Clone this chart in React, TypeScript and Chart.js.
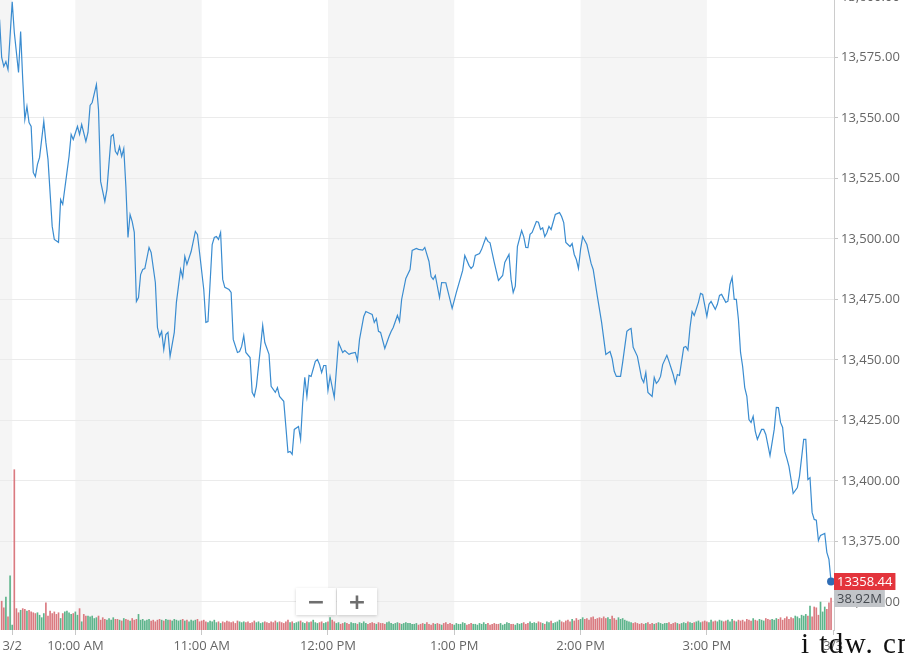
import React, { useEffect, useRef } from "react";
import { Chart, registerables } from "chart.js";

Chart.register(...registerables);

// minutes after 9:30 AM (negative = previous session's last minutes)
const minutes = [
  -6, -5, -4, -3, -2, 0, 1, 3, 4, 5, 6, 7, 8, 9, 10, 11, 12, 13, 15, 16, 17, 19, 20, 22, 23, 24, 26, 27, 28, 29,
  31, 32, 33, 35, 36, 37, 38, 40, 41, 42, 44, 45, 47, 48, 49, 50, 51, 52, 53, 54, 55, 56, 57, 58, 59, 60, 61, 62, 63, 65,
  66, 68, 69, 70, 71, 72, 73, 74, 75, 77, 78, 80, 81, 82, 83, 85, 87, 88, 89, 91, 92, 93, 95, 96, 97, 98, 99, 100, 101, 103,
  104, 105, 107, 108, 109, 110, 111, 113, 114, 115, 116, 118, 119, 120, 122, 123, 125, 126, 127, 129, 130, 131, 132, 133, 134, 136, 137, 138, 139, 140,
  141, 142, 144, 145, 146, 147, 148, 149, 150, 151, 153, 155, 157, 158, 160, 161, 163, 164, 165, 167, 168, 170, 171, 172, 173, 174, 175, 177, 179, 180,
  181, 183, 184, 185, 187, 189, 190, 192, 193, 195, 196, 198, 199, 200, 201, 203, 204, 206, 207, 209, 211, 214, 215, 217, 218, 219, 220, 222, 223, 225,
  226, 227, 229, 231, 233, 234, 236, 237, 238, 239, 240, 242, 243, 244, 245, 246, 247, 249, 250, 251, 252, 253, 254, 255, 256, 258, 260, 261, 262, 263,
  265, 266, 267, 268, 269, 270, 271, 273, 275, 276, 278, 280, 282, 284, 285, 286, 287, 289, 290, 292, 293, 294, 295, 297, 299, 300, 301, 302, 304, 305,
  306, 307, 308, 309, 311, 312, 314, 315, 316, 317, 319, 320, 321, 322, 323, 324, 326, 327, 328, 330, 331, 332, 334, 335, 336, 337, 339, 340, 341, 342,
  343, 344, 345, 346, 347, 348, 349, 350, 351, 352, 353, 354, 356, 357, 358, 360, 362, 363, 364, 365, 366, 367, 368, 369, 370, 371, 373, 374, 376, 377,
  378, 379, 380, 381, 382, 383, 384, 386, 387, 388, 389,
];

const prices = [
  13590.7, 13575.0, 13571.3, 13573.3, 13570.0, 13598.0, 13585.3, 13568.8, 13585.7, 13565.9, 13549.4, 13554.8, 13548.1, 13546.5, 13527.5, 13525.8, 13530.8, 13533.7, 13548.6, 13539.9, 13532.9, 13505.2, 13499.8, 13498.6, 13516.3, 13514.3, 13527.5, 13534.1, 13543.2, 13541.1,
  13546.5, 13543.2, 13547.3, 13540.3, 13544.0, 13555.2, 13556.4, 13563.8, 13553.5, 13523.8, 13515.5, 13520.5, 13542.4, 13543.2, 13536.2, 13534.9, 13538.2, 13534.1, 13537.4, 13521.7, 13500.6, 13510.1, 13507.2, 13502.7, 13474.2, 13475.8, 13485.3, 13487.4, 13487.8, 13496.5,
  13494.4, 13482.0, 13463.4, 13459.7, 13461.8, 13454.3, 13460.5, 13461.4, 13451.5, 13461.4, 13473.8, 13487.4, 13484.1, 13492.8, 13489.5, 13494.8, 13503.1, 13501.9, 13494.4, 13479.1, 13465.5, 13465.9, 13497.7, 13500.6, 13501.0, 13499.8, 13502.7, 13483.3, 13480.0, 13479.1,
  13477.9, 13458.5, 13453.1, 13453.5, 13455.6, 13460.1, 13453.1, 13451.0, 13436.6, 13434.9, 13439.1, 13455.6, 13464.3, 13457.2, 13452.3, 13439.1, 13436.6, 13438.6, 13434.9, 13432.9, 13422.5, 13411.8, 13412.2, 13411.0, 13421.3, 13422.5, 13417.2, 13432.4, 13442.8, 13434.9,
  13443.6, 13443.2, 13449.4, 13450.2, 13448.1, 13444.8, 13447.7, 13447.7, 13437.4, 13443.2, 13434.5, 13457.2, 13453.1, 13453.9, 13452.3, 13452.7, 13453.1, 13449.8, 13458.5, 13468.0, 13470.0, 13469.2, 13468.8, 13465.5, 13467.1, 13461.8, 13461.4, 13454.8, 13459.7, 13461.8,
  13463.4, 13468.4, 13465.9, 13475.0, 13483.7, 13487.4, 13495.3, 13496.1, 13495.7, 13495.4, 13496.5, 13490.7, 13484.5, 13483.3, 13484.9, 13475.8, 13482.0, 13481.9, 13478.3, 13471.3, 13477.9, 13487.0, 13493.2, 13489.1, 13487.8, 13488.8, 13493.2, 13494.0, 13495.7, 13500.6,
  13499.0, 13498.4, 13490.3, 13482.9, 13484.9, 13490.3, 13493.6, 13483.3, 13477.9, 13480.5, 13496.9, 13503.5, 13501.0, 13496.5, 13496.4, 13501.9, 13502.7, 13507.2, 13506.9, 13503.9, 13504.6, 13501.0, 13502.6, 13505.2, 13503.9, 13510.1, 13510.9, 13509.3, 13506.8, 13498.6,
  13496.9, 13498.1, 13493.6, 13491.5, 13487.8, 13495.7, 13501.0, 13497.7, 13489.9, 13487.4, 13476.2, 13465.5, 13452.3, 13453.5, 13450.6, 13445.3, 13443.2, 13443.2, 13449.0, 13461.8, 13462.6, 13463.0, 13455.2, 13451.5, 13442.4, 13440.7, 13444.8, 13436.6, 13434.9, 13442.8,
  13440.3, 13441.3, 13443.2, 13448.1, 13451.9, 13449.4, 13444.0, 13440.3, 13444.0, 13443.6, 13455.2, 13455.6, 13454.1, 13463.4, 13470.0, 13468.4, 13473.8, 13477.5, 13477.1, 13468.0, 13473.0, 13474.2, 13470.9, 13473.0, 13476.7, 13477.1, 13473.8, 13474.3, 13481.2, 13484.1,
  13475.0, 13475.0, 13466.7, 13453.1, 13447.3, 13438.6, 13435.0, 13425.4, 13424.2, 13426.7, 13420.5, 13417.2, 13421.3, 13421.3, 13419.2, 13410.5, 13421.3, 13430.4, 13430.3, 13424.2, 13422.1, 13412.2, 13409.3, 13406.0, 13400.6, 13394.8, 13397.3, 13401.9, 13417.2, 13417.2,
  13400.6, 13401.3, 13387.0, 13384.1, 13383.8, 13375.4, 13377.5, 13378.3, 13370.5, 13367.6, 13358.44,
];

// one-minute volume (millions), starting at minute -5
const volumeStart = -5;
const volumes = [
  35, 27, 40, 16, 66, 6, 195,
  26, 21, 24, 26, 25, 23, 24, 22, 21, 20, 21, 18, 15, 20,
  33, 17, 23, 20, 22, 19, 21, 14, 20, 22, 23, 21, 19, 20, 22, 18,
  26,
  10, 19, 17, 17, 16, 17, 14, 15, 17, 12, 15, 13, 12,
  14, 12, 15, 13, 13, 12, 11, 14, 13, 12, 11, 14, 12, 13,
  19,
  12, 13, 11, 12, 13, 11, 12, 10, 12, 13, 12, 11, 13, 12, 12, 11, 13, 12, 11, 12, 13, 11, 12, 10, 12, 11, 12, 13,
  10, 11, 12, 10, 9, 11, 10, 12, 9, 10, 8, 10, 9, 11, 10, 9, 10, 8, 11, 10, 9, 10,
  9, 10, 8, 9, 11, 9, 10, 8, 9, 10, 9, 8, 10, 9, 11, 9, 10, 9, 8, 10, 12, 9, 10, 8, 9, 10, 11, 9, 8, 10, 9, 10, 12, 9, 8, 9, 10, 8, 9, 10,
  15, 12, 10,
  8, 9, 7, 8, 9, 8, 7, 9, 8, 8, 7, 9, 8, 10, 8, 7, 8, 9, 8, 7, 9, 8, 8, 7, 9, 10, 8, 7, 8, 9, 8, 7, 8, 9, 8, 8, 7,
  7, 8, 6, 7, 8, 7, 9, 7, 6, 8, 7, 8, 7, 6, 8, 9, 7, 8, 7, 6, 8, 7, 7, 9, 8, 6, 7, 8, 7, 7,
  6, 8, 7, 9, 7, 8, 6, 7, 8, 7, 7, 8, 6, 7, 9, 8, 7, 7, 6, 8, 7, 8, 9, 7, 8, 10, 8, 9, 8, 10,
  9, 8, 7, 10, 9, 11, 8, 9, 10, 12, 10, 9, 11, 12, 10, 13, 11, 14, 12, 13, 15, 13, 14, 12, 15, 16, 13, 14, 15, 14,
  16, 14, 15, 13, 17, 14, 12, 15, 13, 14, 12, 11, 10, 9, 8, 9, 8, 7,
  8, 7, 8, 9, 7, 8, 7, 8, 9, 8, 7, 8, 8, 9, 7, 8, 9, 8, 7, 8, 9, 8, 10, 9, 8, 9, 10, 11, 9, 10,
  11, 10, 9, 12, 10, 11, 10, 12, 11, 10, 11, 12, 10, 13, 11, 10, 12,
  11, 12, 10, 13, 12, 11, 14, 12, 11, 13, 12, 11, 14, 13, 12,
  13, 12, 14, 13, 15, 12, 14, 16, 13, 15, 14, 17, 16, 14, 18, 17, 19,
  17, 29, 16, 28, 27, 18, 34, 22, 28, 25, 33, 38.92,
];

const xTickMinutes = [0, 30, 90, 150, 210, 270, 330, 390];
const xTickLabels = ["3/2", "10:00 AM", "11:00 AM", "12:00 PM", "1:00 PM", "2:00 PM", "3:00 PM", "3/3"];
const yTicks = [13350, 13375, 13400, 13425, 13450, 13475, 13500, 13525, 13550, 13575, 13600];
// shaded hour bands (minutes)
const bands = [[-6, 0], [30, 90], [150, 210], [270, 330]];

const X_MIN = -5.8;
const X_MAX = 390.4;
const Y_MIN = 13338.4;
const Y_MAX = 13600;
const VOL_MAX = 770;

function priceAt(m: number): number {
  if (m <= minutes[0]) return prices[0];
  for (let i = 1; i < minutes.length; i++) {
    if (m <= minutes[i]) {
      const t = (m - minutes[i - 1]) / (minutes[i] - minutes[i - 1]);
      return prices[i - 1] + t * (prices[i] - prices[i - 1]);
    }
  }
  return prices[prices.length - 1];
}

const bandPlugin = {
  id: "bands",
  beforeDraw(chart: any) {
    const { ctx, chartArea } = chart;
    const xs = chart.scales.x;
    ctx.save();
    ctx.fillStyle = "#f5f5f5";
    for (const [a, b] of bands) {
      const x1 = Math.max(chartArea.left, xs.getPixelForValue(a));
      const x2 = Math.min(chartArea.right, xs.getPixelForValue(b));
      if (x2 > x1) ctx.fillRect(x1, chartArea.top, x2 - x1, chartArea.bottom - chartArea.top);
    }
    ctx.restore();
  },
};

const labelPlugin = {
  id: "lastLabels",
  afterDraw(chart: any) {
    const { ctx, chartArea } = chart;
    const ys = chart.scales.y;
    const y2 = chart.scales.y2;
    const last = prices[prices.length - 1];
    const lastVol = volumes[volumes.length - 1];
    const py = ys.getPixelForValue(last);
    const x0 = chartArea.right;
    ctx.save();
    ctx.font = "13px 'Open Sans', sans-serif";
    ctx.textBaseline = "middle";
    const t1 = last.toFixed(2);
    const w1 = ctx.measureText(t1).width + 6;
    ctx.fillStyle = "#e3343c";
    ctx.fillRect(x0, py - 8.5, w1, 17);
    ctx.fillStyle = "#ffffff";
    ctx.fillText(t1, x0 + 3, py + 0.5);
    const t2 = lastVol.toFixed(2) + "M";
    const w2 = ctx.measureText(t2).width + 6;
    const vy = Math.max(py + 8.5, y2.getPixelForValue(lastVol) - 8.5);
    ctx.fillStyle = "#c2c5c9";
    ctx.fillRect(x0, vy, w2, 17);
    ctx.fillStyle = "#454a50";
    ctx.fillText(t2, x0 + 3, vy + 9);
    ctx.restore();
  },
};

export default function App() {
  const ref = useRef<HTMLCanvasElement | null>(null);

  useEffect(() => {
    if (!ref.current) return;
    Chart.defaults.font.family = "'Open Sans', sans-serif";
    const lastIdx = prices.length - 1;
    const volColors = volumes.map((_, i) => {
      const m = i + volumeStart;
      return priceAt(m) >= priceAt(m - 1) ? "#5db48b" : "#da7a80";
    });
    const chart = new Chart(ref.current, {
      type: "bar",
      data: {
        datasets: [
          {
            type: "line",
            data: minutes.map((m, i) => ({ x: m, y: prices[i] })),
            borderColor: "#3a8cd0",
            borderWidth: 1.2,
            pointRadius: (c: any) => (c.dataIndex === lastIdx ? 4 : 0),
            pointBackgroundColor: "#2f6db5",
            pointBorderWidth: 0,
            tension: 0,
            yAxisID: "y",
            order: 0,
          } as any,
          {
            type: "bar",
            data: volumes.map((v, i) => ({ x: i + volumeStart, y: v })),
            backgroundColor: volColors,
            barThickness: 1,
            yAxisID: "y2",
            order: 1,
          } as any,
        ],
      },
      options: {
        animation: false,
        responsive: false,
        maintainAspectRatio: false,
        layout: { padding: 0, autoPadding: false },
        plugins: { legend: { display: false }, tooltip: { enabled: false } },
        scales: {
          x: {
            type: "linear",
            offset: false,
            min: X_MIN,
            max: X_MAX,
            afterBuildTicks: (s: any) => {
              s.ticks = xTickMinutes.map((v) => ({ value: v }));
            },
            ticks: {
              autoSkip: false,
              maxRotation: 0,
              color: "#666",
              font: { size: 13 },
              padding: 3,
              callback: (v: any) => {
                const i = xTickMinutes.indexOf(Number(v));
                return i >= 0 ? xTickLabels[i] : "";
              },
            },
            grid: { drawOnChartArea: false, offset: false, tickLength: 5, color: "#c8c8c8" },
            border: { display: false },
            afterFit: (s: any) => {
              s.height = 26;
              s.paddingLeft = 0;
              s.paddingRight = 0;
            },
          },
          y: {
            type: "linear",
            position: "right",
            min: Y_MIN,
            max: Y_MAX,
            afterBuildTicks: (s: any) => {
              s.ticks = yTicks.map((v) => ({ value: v }));
            },
            ticks: {
              color: "#666",
              font: { size: 13 },
              padding: 3,
              callback: (v: any) =>
                Number(v).toLocaleString("en-US", { minimumFractionDigits: 2, maximumFractionDigits: 2 }),
            },
            grid: { color: "#ebebeb", tickLength: 4, tickColor: "#c8c8c8" },
            border: { color: "#cccccc" },
            afterFit: (s: any) => {
              s.width = 71;
              s.paddingTop = 0;
              s.paddingBottom = 0;
            },
          },
          y2: { type: "linear", display: false, min: 0, max: VOL_MAX },
        },
      } as any,
      plugins: [bandPlugin, labelPlugin],
    });
    return () => chart.destroy();
  }, []);

  const btn: React.CSSProperties = {
    position: "absolute",
    top: 588,
    height: 27,
    background: "#fff",
    boxShadow: "0 1px 3px rgba(0,0,0,0.18)",
    color: "#6e6e6e",
    fontFamily: "'DejaVu Sans', sans-serif",
    fontWeight: "bold",
    fontSize: 22,
    lineHeight: "27px",
    textAlign: "center",
  };

  return (
    <div style={{ position: "absolute", left: 0, top: 0, width: 905, height: 656, overflow: "hidden", background: "#fff" }}>
      <canvas
        ref={ref}
        width={905}
        height={659}
        style={{ position: "absolute", left: 0, top: -3, width: 905, height: 659 }}
      />
      <div style={{ ...btn, left: 296, width: 40 }}>−</div>
      <div style={{ ...btn, left: 337, width: 40 }}>+</div>
      <div
        style={{
          position: "absolute",
          left: 801,
          top: 629,
          fontFamily: "'Liberation Serif', serif",
          fontSize: 29,
          lineHeight: "28px",
          letterSpacing: "1.5px",
          color: "#111",
          whiteSpace: "nowrap",
        }}
      >
        i tdw. cn
      </div>
    </div>
  );
}
